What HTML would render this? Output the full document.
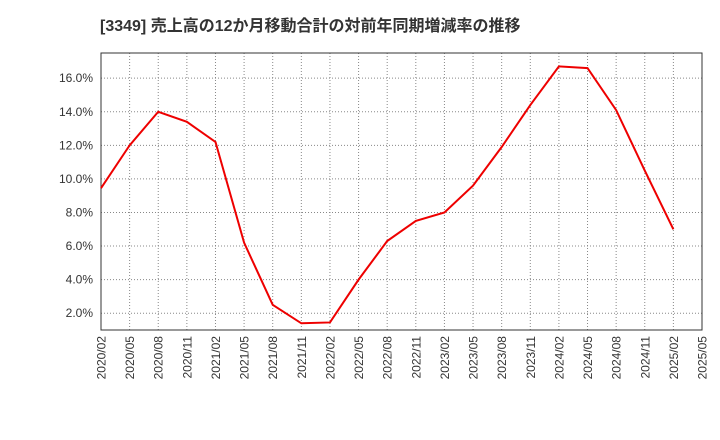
<!DOCTYPE html>
<html><head><meta charset="utf-8"><style>
body{margin:0;background:#fff;}
svg{display:block;font-family:"Liberation Sans","Noto Sans CJK JP",sans-serif;}
</style></head><body>
<svg id="c" width="720" height="440">
<text x="100" y="31" font-size="16" font-weight="bold" fill="#333">[3349]  売上高の12か月移動合計の対前年同期増減率の推移</text>
<g id="grid"></g><g id="axes"></g><g id="series"></g>
</svg>
<script>
const categories=["2020/02","2020/05","2020/08","2020/11","2021/02","2021/05","2021/08","2021/11","2022/02","2022/05","2022/08","2022/11","2023/02","2023/05","2023/08","2023/11","2024/02","2024/05","2024/08","2024/11","2025/02","2025/05"];
const values=[9.45,12.0,14.0,13.4,12.2,6.2,2.5,1.4,1.45,4.0,6.3,7.5,8.0,9.6,11.9,14.4,16.7,16.6,14.1,10.5,7.0];
const yTicks=[2,4,6,8,10,12,14,16];
const NS="http://www.w3.org/2000/svg";
const L=101,R=702,T=53,B=330,yMin=1,yMax=17.5;
const xs=i=>L+i*(R-L)/(categories.length-1);
const ys=v=>B-(v-yMin)/(yMax-yMin)*(B-T);
function mk(tag,attrs,parent){const e=document.createElementNS(NS,tag);for(const k in attrs)e.setAttribute(k,attrs[k]);document.getElementById(parent).appendChild(e);return e;}
const frame=mk('rect',{x:L,y:T,width:R-L,height:B-T,fill:'none',stroke:'#333','stroke-width':1},'axes');


categories.forEach((c,i)=>{
  const x=xs(i);
  if(i>0&&i<categories.length-1){const g=mk('line',{x1:x,x2:x,y1:T,y2:B,stroke:'#888','stroke-dasharray':'1,2'},'grid');
  
  }
  const t=mk('text',{x:0,y:0,'font-size':12,fill:'#333','text-anchor':'end',transform:`translate(${x+4.5},${B+6}) rotate(-90)`},'axes');
  t.textContent=c;
  
  
});
yTicks.forEach(v=>{
  const y=ys(v);
  const g=mk('line',{x1:L,x2:R,y1:y,y2:y,stroke:'#888','stroke-dasharray':'1,2'},'grid');
  
  
  const t=mk('text',{x:L-8,y:y+4,'font-size':12,fill:'#333','text-anchor':'end'},'axes');
  t.textContent=v.toFixed(1)+'%';
  
  
});
const line=mk('polyline',{points:values.map((v,i)=>xs(i)+','+ys(v)).join(' '),fill:'none',stroke:'#e00','stroke-width':2},'series');


</script>
</body></html>
